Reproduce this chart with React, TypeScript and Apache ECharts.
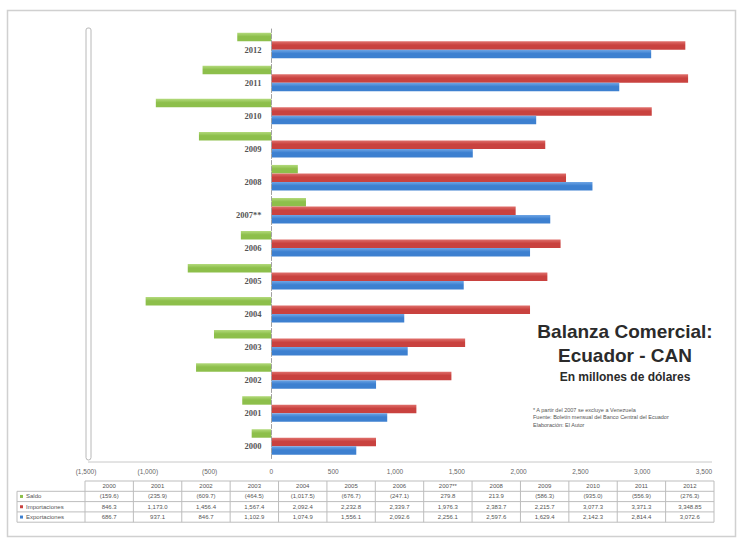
import React, { useEffect, useRef } from "react";
import * as echarts from "echarts";

const years = ["2000", "2001", "2002", "2003", "2004", "2005", "2006", "2007**", "2008", "2009", "2010", "2011", "2012"];
const exportaciones = [686.7, 937.1, 846.7, 1102.9, 1074.9, 1556.1, 2092.6, 2256.1, 2597.6, 1629.4, 2142.3, 2814.4, 3072.6];
const importaciones = [846.3, 1173.0, 1456.4, 1567.4, 2092.4, 2232.8, 2339.7, 1976.3, 2383.7, 2215.7, 3077.3, 3371.3, 3348.85];
const saldo = [-159.6, -235.9, -609.7, -464.5, -1017.5, -676.7, -247.1, 279.8, 213.9, -586.3, -935.0, -556.9, -276.3];
const axisTicks = [-1500, -1000, -500, 0, 500, 1000, 1500, 2000, 2500, 3000, 3500];

const GREEN = "#8DBF4B";
const RED = "#C9423F";
const BLUE = "#3D80D0";

const GRID_LEFT = 86;
const GRID_RIGHT = 39;
const X_MIN = -1500;
const X_MAX = 3500;

const nf = new Intl.NumberFormat("en-US", { minimumFractionDigits: 1, maximumFractionDigits: 2 });
const fmtCell = (v: number) => (v < 0 ? "(" + nf.format(-v) + ")" : nf.format(v));
const fmtAxis = (v: number) => {
  const s = Math.abs(v).toLocaleString("en-US");
  return v < 0 ? "(" + s + ")" : s;
};

const grad = (c1: string, c2: string) =>
  new echarts.graphic.LinearGradient(0, 0, 0, 1, [
    { offset: 0, color: c1 },
    { offset: 0.45, color: c2 },
    { offset: 1, color: c2 },
  ]);

function buildTable() {
  const els: any[] = [];
  const x0 = 85;
  const x1 = 714;
  const lx = 17;
  const colW = (x1 - x0) / years.length;
  const top = 481;
  const rh = 10.3;
  const lineStyle = { stroke: "#BDBDBD", lineWidth: 1 };
  els.push({ type: "line", shape: { x1: x0, y1: top, x2: x1, y2: top }, style: lineStyle, silent: true });
  for (let r = 1; r <= 4; r++) {
    const y = top + r * rh;
    els.push({ type: "line", shape: { x1: lx, y1: y, x2: x1, y2: y }, style: lineStyle, silent: true });
  }
  els.push({ type: "line", shape: { x1: lx, y1: top + rh, x2: lx, y2: top + 4 * rh }, style: lineStyle, silent: true });
  for (let c = 0; c <= years.length; c++) {
    const x = x0 + c * colW;
    els.push({ type: "line", shape: { x1: x, y1: top, x2: x, y2: top + 4 * rh }, style: lineStyle, silent: true });
  }
  const textStyle = (t: string, x: number, y: number, align = "center") => ({
    type: "text",
    x,
    y,
    silent: true,
    style: {
      text: t,
      fontSize: 6,
      fontFamily: "Liberation Sans, Arial, sans-serif",
      fill: "#555",
      align,
      verticalAlign: "middle",
    },
  });
  years.forEach((yr, i) => {
    const cx = x0 + (i + 0.5) * colW;
    els.push(textStyle(yr, cx, top + rh * 0.5));
    els.push(textStyle(fmtCell(saldo[i]), cx, top + rh * 1.5));
    els.push(textStyle(fmtCell(importaciones[i]), cx, top + rh * 2.5));
    els.push(textStyle(fmtCell(exportaciones[i]), cx, top + rh * 3.5));
  });
  const legend = [
    { name: "Saldo", color: GREEN },
    { name: "Importaciones", color: RED },
    { name: "Exportaciones", color: BLUE },
  ];
  legend.forEach((l, i) => {
    const cy = top + rh * (i + 1.5);
    els.push({ type: "rect", shape: { x: lx + 3, y: cy - 1.5, width: 3, height: 3 }, style: { fill: l.color }, silent: true });
    els.push(textStyle(l.name, lx + 9, cy, "left"));
  });
  return els;
}

export default function App() {
  const ref = useRef<HTMLDivElement>(null);
  useEffect(() => {
    if (!ref.current) return;
    const chart = echarts.init(ref.current, undefined, { renderer: "svg" });
    const gridW = 743 - GRID_LEFT - GRID_RIGHT;
    const zeroOffset = (gridW * (0 - X_MIN)) / (X_MAX - X_MIN);
    chart.setOption({
      animation: false,
      backgroundColor: "#FFFFFF",
      grid: { left: GRID_LEFT, right: GRID_RIGHT, top: 29, bottom: 80.5, containLabel: false },
      xAxis: {
        type: "value",
        min: X_MIN,
        max: X_MAX,
        interval: 500,
        splitLine: { show: false },
        axisLine: { show: false },
        axisTick: { show: false },
        axisLabel: {
          margin: 9,
          fontSize: 6.5,
          color: "#666",
          fontFamily: "Liberation Sans, Arial, sans-serif",
          formatter: (v: number) => (axisTicks.includes(v) ? fmtAxis(v) : ""),
        },
      },
      yAxis: {
        type: "category",
        data: years,
        offset: -zeroOffset,
        z: 5,
        axisLine: { show: true, onZero: false, lineStyle: { color: "#A0A0A0", type: "dashed", width: 1 } },
        axisTick: { show: false },
        axisLabel: {
          margin: 10,
          fontSize: 8.5,
          fontWeight: "bold",
          color: "#555",
          fontFamily: "Liberation Serif, Times New Roman, serif",
          verticalAlign: "top",
          padding: [0, 0, 0, 0],
        },
      },
      series: [
        {
          name: "Saldo",
          type: "bar",
          data: saldo,
          barWidth: 8.5,
          barGap: "0%",
          itemStyle: { color: grad("#B3DA7C", GREEN) },
          z: 2,
        },
        {
          name: "Importaciones",
          type: "bar",
          data: importaciones,
          barWidth: 8.5,
          barGap: "0%",
          itemStyle: { color: grad("#E0706C", RED) },
          z: 2,
        },
        {
          name: "Exportaciones",
          type: "bar",
          data: exportaciones,
          barWidth: 8.5,
          barGap: "0%",
          itemStyle: { color: grad("#6FA6E6", BLUE) },
          z: 2,
        },
      ],
      graphic: [
        {
          type: "rect",
          shape: { x: 7.5, y: 10.5, width: 728, height: 526 },
          style: { fill: "none", stroke: "#D0D0D0", lineWidth: 1.5 },
          silent: true,
          z: 0,
        },
        {
          type: "rect",
          shape: { x: 86, y: 28, width: 5, height: 432, r: [2, 2, 3, 3] },
          style: { fill: "#FFFFFF", stroke: "#B8B8B8", lineWidth: 1 },
          silent: true,
        },
        {
          type: "line",
          shape: { x1: 88, y1: 462, x2: 712, y2: 462 },
          style: { stroke: "#C8C8C8", lineWidth: 1 },
          silent: true,
        },
        {
          type: "text",
          x: 625,
          y: 331,
          style: {
            text: "Balanza Comercial:",
            fontSize: 19,
            fontWeight: "bold",
            fontFamily: "Liberation Sans, Arial, sans-serif",
            fill: "#2B2B2B",
            align: "center",
            verticalAlign: "middle",
          },
        },
        {
          type: "text",
          x: 625,
          y: 355,
          style: {
            text: "Ecuador - CAN",
            fontSize: 19,
            fontWeight: "bold",
            fontFamily: "Liberation Sans, Arial, sans-serif",
            fill: "#2B2B2B",
            align: "center",
            verticalAlign: "middle",
          },
        },
        {
          type: "text",
          x: 625,
          y: 377,
          style: {
            text: "En millones de dólares",
            fontSize: 12,
            fontWeight: "bold",
            fontFamily: "Liberation Sans, Arial, sans-serif",
            fill: "#2B2B2B",
            align: "center",
            verticalAlign: "middle",
          },
        },
        {
          type: "text",
          x: 533,
          y: 406,
          style: {
            text: "* A partir del 2007 se excluye a Venezuela\nFuente: Boletín mensual del Banco Central del Ecuador\nElaboración: El Autor",
            fontSize: 5.5,
            lineHeight: 7.5,
            fontFamily: "Liberation Sans, Arial, sans-serif",
            fill: "#555",
            align: "left",
            verticalAlign: "top",
          },
        },
        ...buildTable(),
      ],
    });
    return () => chart.dispose();
  }, []);
  return (
    <div style={{ position: "fixed", left: 0, top: 0, width: 743, height: 539 }}>
      <div ref={ref} style={{ width: 743, height: 539 }} />
    </div>
  );
}
